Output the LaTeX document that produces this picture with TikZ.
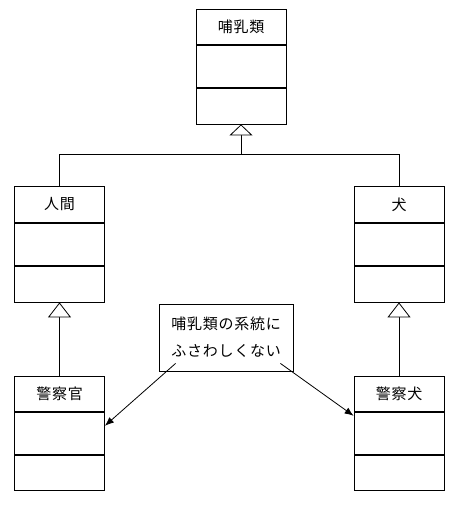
\documentclass[tikz,border=0pt]{standalone}
\usepackage{fontspec}
\setmainfont[LetterSpace=5]{Noto Sans CJK JP}
\usetikzlibrary{arrows.meta,positioning,calc}
\tikzset{
  ctitle/.style  ={draw,line width=0.8pt,minimum width=90pt,minimum height=35pt,inner sep=0pt},
  cpart/.style   ={draw,line width=0.8pt,minimum width=90pt,minimum height=42pt,inner sep=0pt},
  note/.style    ={draw,line width=0.8pt,align=center,minimum width=134pt,minimum height=67pt,
                   font=\fontsize{15}{27}\selectfont},
  inherit/.style ={-{Triangle[open,length=15pt,width=23pt,fill=white]},line width=0.8pt},
  arrow/.style   ={-{Latex[length=9pt,width=7pt]},line width=0.8pt}
}

\begin{document}
\begin{tikzpicture}[x=1pt,y=-1pt, every node/.style={font=\fontsize{15}{17}\selectfont}]
    \useasboundingbox[fill=white] (0,0) rectangle (448,509);
    % base class
    \node[ctitle,anchor=north] (mammal) at (241,9) {哺乳類};
    \node[cpart,below=0pt of mammal]                      (mammal-a) {};
    \node[cpart,below=0pt of mammal-a,minimum height=36pt] (mammal-o) {};
    % subclasses
    \node[ctitle,anchor=north,minimum height=36pt] (human) at (59.5,186) {人間};
    \node[cpart,below=0pt of human]                       (human-a) {};
    \node[cpart,below=0pt of human-a,minimum height=36pt]  (human-o) {};
    \node[ctitle,anchor=north,minimum height=36pt] (dog) at (399,186) {犬};
    \node[cpart,below=0pt of dog]                         (dog-a) {};
    \node[cpart,below=0pt of dog-a,minimum height=36pt]    (dog-o) {};
    \node[ctitle,anchor=north] (officer) at (59.5,376) {警察官};
    \node[cpart,below=0pt of officer]                     (officer-a) {};
    \node[cpart,below=0pt of officer-a,minimum height=35pt] (officer-o) {};
    \node[ctitle,anchor=north] (pdog) at (399,376) {警察犬};
    \node[cpart,below=0pt of pdog]                        (pdog-a) {};
    \node[cpart,below=0pt of pdog-a,minimum height=35pt]  (pdog-o) {};
    % comment
    \node[note] (remark) at (226,337.5) {哺乳類の系統に\\ふさわしくない};
    \coordinate (join) at (241,154);
    \coordinate (remark-l) at ($(remark.south west)+(17,-8)$);
    \coordinate (remark-r) at ($(remark.south east)+(-13,-8)$);
    \draw[line width=0.8pt] (human.north) |- (join);
    \draw[line width=0.8pt] (dog.north)   |- (join);
    \draw[inherit,-{Triangle[open,length=11pt,width=23pt,fill=white]}] (join) -- (mammal-o.south);
    \draw[inherit] (officer.north) -- (human-o.south);
    \draw[inherit] (pdog.north)    -- (dog-o.south);
    \draw[arrow] (remark-l) -- ($(officer-a.north east)+(0,14)$);
    \draw[arrow] (remark-r) -- ($(pdog-a.north west)+(0,4)$);
  \end{tikzpicture}
\end{document}
